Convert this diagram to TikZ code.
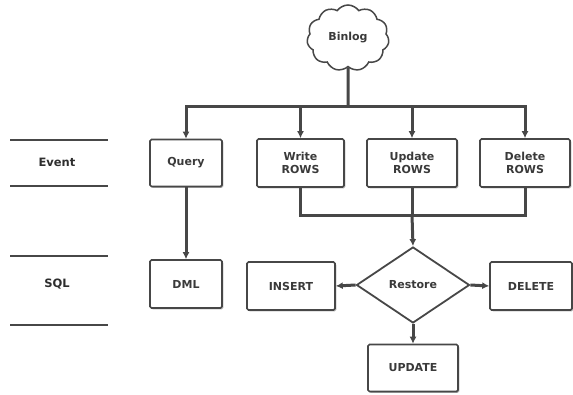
\documentclass[tikz,border=0pt]{standalone}
\usepackage{fontspec}
\setmainfont{DejaVu Sans}
\usetikzlibrary{shapes.geometric,shapes.symbols,arrows.meta,shadows}
\definecolor{ink}{HTML}{474747}
\definecolor{txt}{HTML}{3A3A3A}
\tikzset{
  boxfont/.style={font=\bfseries\fontsize{11}{12.5}\selectfont},
  box/.style={draw=ink, line width=1.6pt, rounded corners=1.5pt, fill=white,
    align=center, text=txt, boxfont, inner sep=0pt,
    drop shadow={shadow xshift=1.3pt, shadow yshift=-1.3pt, fill=gray!60, opacity=1}},
  link/.style={draw=ink, line width=3pt},
  arr/.style={link, -{Latex[length=7pt,width=7pt]}},
  rule/.style={draw=ink, line width=2.2pt},
  tag/.style={text=txt!80!black, font=\bfseries\fontsize{11.5}{13}\selectfont},
}
\begin{document}
\begin{tikzpicture}[x=1pt, y=-1pt]
\useasboundingbox (0,0) rectangle (573,394);

% source of the events
\node[cloud, cloud puffs=11, cloud puff arc=110, draw=ink, line width=1.5pt, fill=white,
  minimum width=82pt, minimum height=66pt, inner sep=0pt, aspect=1.25,
  text=txt, boxfont] (binlog) at (348,38) {Binlog};

% event types
\node[box, minimum width=72pt, minimum height=47pt] (query)  at (186,163) {Query};
\node[box, minimum width=87pt, minimum height=48pt] (write)  at (300.5,163) {Write\\ROWS};
\node[box, minimum width=90pt, minimum height=48pt] (update) at (412,163) {Update\\ROWS};
\node[box, minimum width=90pt, minimum height=48pt] (delete) at (525,163) {Delete\\ROWS};

% generated SQL
\node[box, minimum width=72pt, minimum height=48pt] (dml) at (186,284) {DML};
\node[diamond, draw=ink, line width=1.8pt, fill=white, aspect=1.49, minimum width=113pt,
  minimum height=76pt, inner sep=0pt, text=txt, boxfont]
  (restore) at (413,285) {Restore};
\node[box, minimum width=88pt, minimum height=48pt] (insert)    at (291,286) {INSERT};
\node[box, minimum width=82pt, minimum height=48pt] (deletesql) at (531,286) {DELETE};
\node[box, minimum width=90pt, minimum height=47pt] (updatesql) at (413,368) {UPDATE};

% binlog fan-out
\coordinate (bus) at (348,106);
\draw[link] (binlog.south) -- (bus);
\draw[link] (187,106) -- (527,106);
\draw[arr] (bus) -| (query.north);
\draw[arr] (bus) -| (write.north);
\draw[arr] (bus) -| (update.north);
\draw[arr] (bus) -| (delete.north);

% query to DML
\draw[arr] (query.south) -- (dml.north);

% row events merge into restore
\coordinate (merge) at (412,215);
\draw[link] (write.south) |- (merge);
\draw[link] (delete.south) |- (merge);
\draw[link] (update.south) -- (merge);
\draw[arr] (merge) -- (restore.north);

% restore outputs
\draw[arr] (restore.west) -- (insert.east);
\draw[arr] (restore.east) -- (deletesql.west);
\draw[arr] (restore.south) -- (updatesql.north);

% row labels on the left
\draw[rule] (10,140) -- (108,140);
\draw[rule] (10,186) -- (108,186);
\node[tag] (eventlbl) at (57,162) {Event};
\draw[rule] (10,256) -- (108,256);
\draw[rule] (10,325) -- (108,325);
\node[tag] (sqllbl) at (57,284) {SQL};
\end{tikzpicture}
\end{document}
